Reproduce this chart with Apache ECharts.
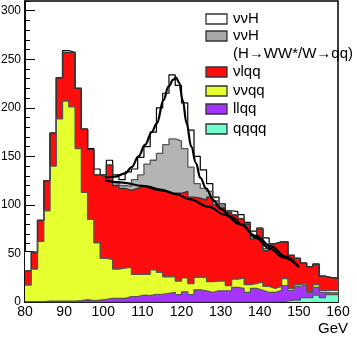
<!DOCTYPE html>
<html lang="en">
<head>
<meta charset="UTF-8">
<title>Recoil mass</title>
<script src="https://cdn.jsdelivr.net/npm/echarts@6/dist/echarts.min.js"></script>
<style>
  html, body { margin: 0; padding: 0; background: #fff; }
  #chart { width: 357px; height: 339px; }
</style>
</head>
<body>
<div id="chart"></div>
<script>
// 50 bins of 1.6 GeV from 80 to 160
const binStart = 80;
const binWidth = 1.6;

// cumulative stack tops per bin (events)
const qqqq = [0, 0, 0, 0, 0, 0, 0, 0, 0, 0,
              0, 0, 0, 0, 0, 0, 0, 0, 0, 0,
              0, 0, 0, 0, 0, 0, 0, 0, 0, 0,
              0, 0, 0, 0, 0, 0, 0, 0, 0, 0,
              0.5, 1, 2, 2, 4.5, 4.5, 7, 4.5, 7.5, 7.5];
const llqq = [0.5, 0.5, 0.5, 1, 1, 1, 1, 1, 1.5, 2.5,
              1.5, 2, 2.8, 3.8, 3.8, 3.8, 5.5, 5.5, 7, 6.5,
              8, 8, 9, 10, 7.5, 10.5, 7.5, 12.5, 11.5, 10,
              11.5, 11.5, 11.5, 15, 14, 10, 14, 12, 10, 10,
              12, 17, 12, 16, 18, 10, 15, 10, 9.5, 9.5];
const vvqq = [17.5, 34, 62.5, 94, 140, 188.5, 207, 201, 158, 113,
              85, 61, 45, 44, 34, 35, 36, 28.5, 28.5, 28.5,
              33, 30.5, 26, 26, 21.5, 25, 19, 25.5, 25.5, 21,
              21.5, 21.5, 17, 23.5, 24.5, 18, 19, 21, 16, 14,
              16, 24, 14, 18, 19, 11, 18, 12, 12, 12];
const vlqq = [32, 51, 84, 125, 174, 231, 257, 257, 220, 178,
              157, 131, 129, 141, 120, 117, 115, 117, 119, 119,
              117, 116, 114, 112, 112, 114, 108, 107, 105, 108,
              100, 97, 92, 89, 85, 80, 65, 75, 53, 60,
              62, 62, 48, 45, 40, 36.5, 39, 26.5, 25, 25];
const vvhWW = [32, 51, 84, 125, 174, 231, 257, 257, 220, 178,
               157, 131, 129, 141, 124, 120, 119, 126, 131, 142,
               146, 153, 162, 168, 166, 158, 139, 122, 117, 114,
               104, 99, 93, 90, 86, 81, 68, 76, 55, 60,
               62, 62, 48, 45, 40, 36.5, 39, 26.5, 25, 25];
const vvhAll = [52, 51, 84, 125, 174, 231, 259, 257, 220, 178,
                158, 137, 131, 146, 131, 126, 134, 137, 149, 160,
                175, 200, 215, 234, 223, 205, 177, 150, 136, 122,
                108, 101, 94, 93, 90, 82, 73, 76, 66, 60,
                62, 62, 48, 45, 40, 36.5, 39, 26.5, 25, 25];

// fitted curves (GeV, events)
const fitSig = [[100.5, 128], [103, 129], [105.6, 132.5], [107.3, 139], [109, 150],
                [110.7, 162], [112.4, 175], [113.7, 184], [115.4, 208], [116.7, 222],
                [117.9, 229], [118.6, 231], [119.4, 226], [120.3, 208], [121.3, 184],
                [122.5, 160], [123.7, 143], [124.8, 128], [126.3, 117], [128.1, 105],
                [130, 96], [133, 87], [135.4, 80], [139, 66], [142.6, 55], [146, 46], [150, 36]];
const fitBkg = [[100.5, 125], [105, 123], [110, 119.5], [115, 115], [118.6, 111],
                [122, 106], [127, 98], [131, 90], [135, 80], [139, 68],
                [143, 57], [146.5, 47], [150, 36]];

function steps(vals) {
  const pts = vals.map((v, i) => [+(binStart + i * binWidth).toFixed(2), v]);
  pts.push([+(binStart + vals.length * binWidth).toFixed(2), vals[vals.length - 1]]);
  return pts;
}

function histSeries(name, vals, fill, stroke, lw) {
  return {
    name: name,
    type: 'line',
    step: 'end',
    data: steps(vals),
    symbol: 'none',
    silent: true,
    lineStyle: { color: stroke, width: lw },
    areaStyle: { color: fill, opacity: 1 },
    itemStyle: { color: fill }
  };
}

function fitSeries(pts) {
  return {
    type: 'line',
    data: pts,
    symbol: 'none',
    silent: true,
    smooth: 0.4,
    smoothMonotone: 'x',
    lineStyle: { color: '#000', width: 2.2 },
    z: 5
  };
}

const FONT = 'Liberation Sans, Arial, sans-serif';

const legendItems = [
  { text: 'ννH', color: '#ffffff', y: 19 },
  { text: 'ννH', color: '#a8a8a8', y: 36 },
  { text: 'νlqq', color: '#ff0d0d', y: 72 },
  { text: 'ννqq', color: '#e6ff2e', y: 91 },
  { text: 'llqq', color: '#a634ff', y: 109 },
  { text: 'qqqq', color: '#70ffcc', y: 129 }
];

const graphics = [];
legendItems.forEach(it => {
  graphics.push({
    type: 'rect',
    shape: { x: 206, y: it.y - 5, width: 21, height: 10 },
    style: { fill: it.color, stroke: '#333', lineWidth: 1.3 }
  });
  graphics.push({
    type: 'text',
    x: 233, y: it.y,
    style: { text: it.text, font: '15px ' + FONT, fill: '#000', verticalAlign: 'middle' }
  });
});
graphics.push({
  type: 'text',
  x: 233, y: 54,
  style: { text: '(H→WW*/W→qq)', font: '15px ' + FONT, fill: '#000', verticalAlign: 'middle' }
});

const chart = echarts.init(document.getElementById('chart'));
chart.setOption({
  animation: false,
  grid: {
    left: 25, top: 1, width: 313, height: 301,
    outerBoundsMode: 'none',
    containLabel: false,
    show: true, borderColor: '#000', borderWidth: 1.5
  },
  xAxis: {
    type: 'value',
    min: 80, max: 160, interval: 10,
    axisLine: { lineStyle: { color: '#000', width: 1.5 } },
    axisTick: { show: false },
    splitLine: { show: false },
    axisLabel: { color: '#000', fontSize: 14, fontFamily: FONT, margin: 3 },
    name: 'GeV',
    nameLocation: 'end',
    nameGap: 10,
    nameTextStyle: { color: '#000', fontSize: 15, fontFamily: FONT, align: 'right', verticalAlign: 'top', padding: [19, 0, 0, 0] }
  },
  yAxis: [
    {
      type: 'value',
      min: 0, max: 310, interval: 50,
      axisLine: { show: true, lineStyle: { color: '#000', width: 1.5 } },
      axisTick: { inside: true, length: 10, lineStyle: { color: '#000' } },
      splitLine: { show: false },
      axisLabel: { color: '#000', fontSize: 12, fontFamily: FONT, margin: 4, showMaxLabel: false }
    },
    {
      type: 'value',
      min: 0, max: 310, interval: 10,
      position: 'left',
      axisLine: { show: false },
      axisTick: { inside: true, length: 5, lineStyle: { color: '#000' } },
      splitLine: { show: false },
      axisLabel: { show: false }
    }
  ],
  series: [
    histSeries('ννH', vvhAll, '#ffffff', '#000', 1.2),
    histSeries('ννH (WW)', vvhWW, '#b4b4b2', '#555', 1.3),
    histSeries('νlqq', vlqq, '#ff0d0d', '#333', 1.3),
    histSeries('ννqq', vvqq, '#e6ff2e', '#555', 1.3),
    histSeries('llqq', llqq, '#a634ff', '#555', 1.2),
    histSeries('qqqq', qqqq, '#70ffcc', '#555', 1.2),
    fitSeries(fitSig),
    fitSeries(fitBkg)
  ],
  graphic: graphics
});
</script>
</body>
</html>
